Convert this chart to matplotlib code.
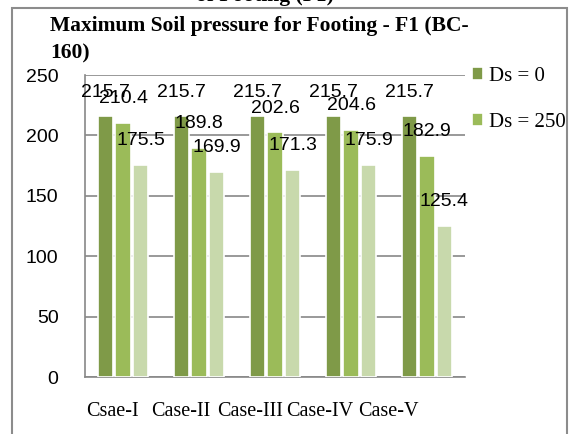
import matplotlib.pyplot as plt
import matplotlib.patches as mpatches
import numpy as np

# data
cases = ["Csae-I", "Case-II", "Case-III", "Case-IV", "Case-V"]
ds_0 = [215.7, 215.7, 215.7, 215.7, 215.7]
ds_250 = [210.4, 189.8, 202.6, 204.6, 182.9]
ds_500 = [175.5, 169.9, 171.3, 175.9, 125.4]
series_names = ["Ds = 0", "Ds = 250", "Ds = 500"]
colors = ["#7F9A48", "#9BBB59", "#C8D9AC"]

W, H = 571, 434
fig = plt.figure(figsize=(W / 100, H / 100), dpi=100)
ax = fig.add_axes([85 / W, 1 - 377 / H, 380 / W, (377 - 75) / H])

serif = "Liberation Serif"
sans = "Liberation Sans"

x = np.arange(len(cases))
width = 0.2
step = 0.23
handles = []
for i, (vals, col, name) in enumerate(zip([ds_0, ds_250, ds_500], colors, series_names)):
    pos = x + (i - 1) * step
    b = ax.bar(pos, vals, width, color=col, edgecolor="white", linewidth=1.2, label=name, zorder=3)
    handles.append(b)
    for px, v in zip(pos, vals):
        ax.text(px, v + 20, f"{v:.1f}", ha="center", va="center",
                fontsize=14, family=sans, color="black", zorder=4)

ax.set_xlim(-0.5, len(cases) - 0.5)
ax.set_ylim(0, 250)
ax.set_yticks(range(0, 251, 50))
ax.yaxis.grid(True, color="#888888", linewidth=1.2, zorder=0)
# category labels sit a little left of the groups, as in the original
ax.set_xticks(x * 0.91 - 0.145)
ax.set_xticklabels(cases, family=serif, fontsize=14.5)
ax.tick_params(axis="x", length=0, pad=18)
ax.tick_params(axis="y", length=0, pad=19)
for lab in ax.get_yticklabels():
    lab.set_family(sans)
    lab.set_fontsize(14)
for s in ["top", "right"]:
    ax.spines[s].set_visible(False)
for s in ["left", "bottom"]:
    ax.spines[s].set_color("#888888")
    ax.spines[s].set_linewidth(1.2)

leg = fig.legend(handles[:2], series_names[:2], loc="upper left",
                 bbox_to_anchor=(453 / W, 1 - 48 / H), frameon=False,
                 prop={"family": serif, "size": 15}, handlelength=0.55,
                 handleheight=0.55, handletextpad=0.3, labelspacing=1.3)

ax.set_title("Maximum Soil pressure for Footing - F1 (BC-\n160)", loc="left",
             family=serif, fontweight="bold", fontsize=15.5, x=-35 / 380, y=1.027,
             linespacing=1.5)

# chart frame and cut-off document heading
fig.patches.append(mpatches.Rectangle((12 / W, -0.05), (567 - 12) / W, 1.05 - 8 / H,
                                      transform=fig.transFigure, fill=False,
                                      edgecolor="#8c8c8c", linewidth=1.5))
fig.text(265 / W, 1 - 0.5 / H, "of Footing (F1)", ha="center", va="baseline",
         family=serif, fontweight="bold", fontsize=15.5)

fig.savefig("out.png", dpi=100)
